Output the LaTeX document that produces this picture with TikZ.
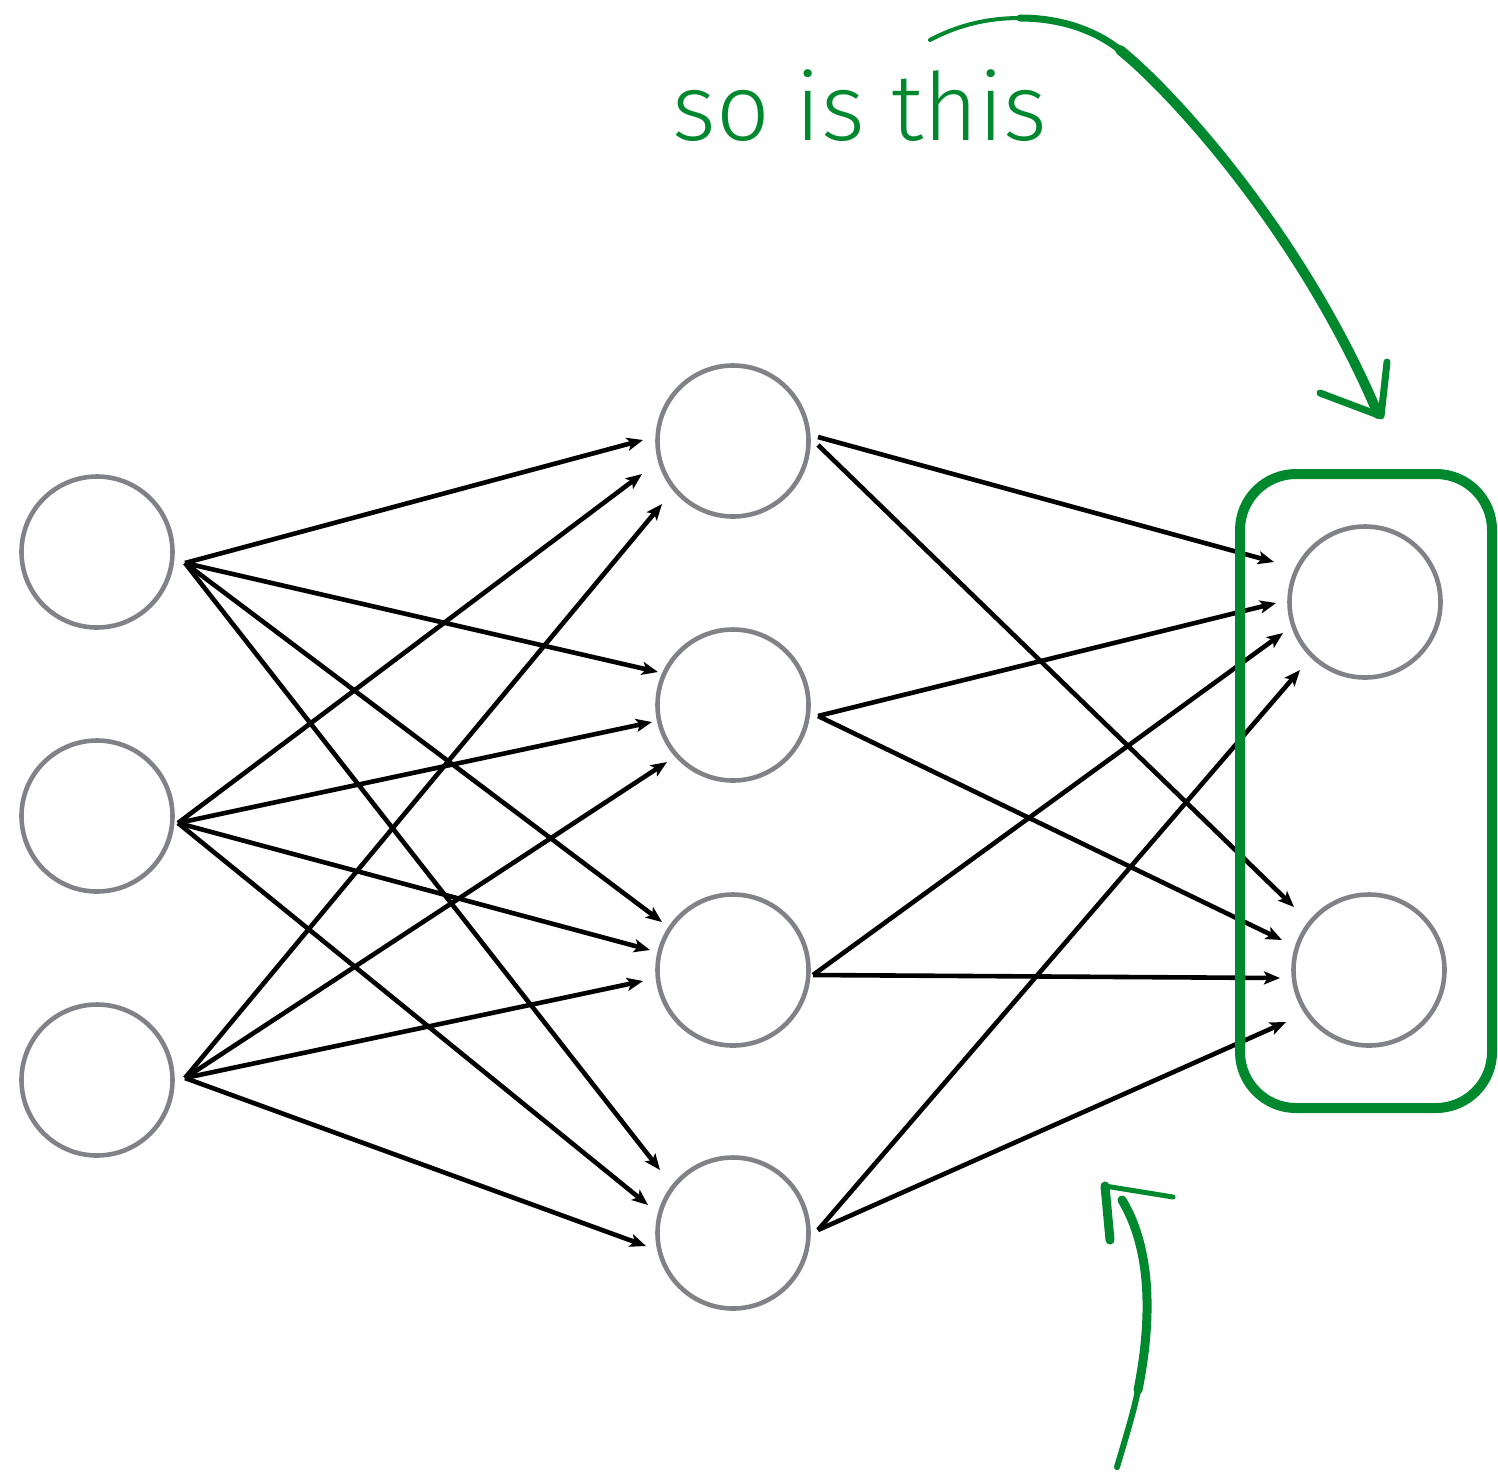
\documentclass[tikz,border=0pt]{standalone}
\usepackage{fontspec}
\newfontfamily\lightfont{Fira Sans Light}
\usetikzlibrary{arrows.meta,calc}
\definecolor{sketchgreen}{RGB}{0,136,47}
\definecolor{nodegray}{RGB}{128,130,135}
\begin{document}
\begin{tikzpicture}[x=0.5pt,y=-0.5pt,
  neuron/.style={circle,draw=nodegray,line width=2.3pt,minimum size=75.5pt,inner sep=0pt},
  link/.style={line width=2.3pt,-{Stealth[length=8pt,width=6.5pt,inset=1.8pt]}},
  sketch/.style={draw=sketchgreen,line cap=round,line join=round}]
\useasboundingbox (0,0) rectangle (1498,1474);

% neurons
\node[neuron] (i1) at (97,552) {};
\node[neuron] (i2) at (97,816) {};
\node[neuron] (i3) at (97,1080) {};
\node[neuron] (h1) at (733,441) {};
\node[neuron] (h2) at (733,705) {};
\node[neuron] (h3) at (733,970) {};
\node[neuron] (h4) at (733,1233) {};
\node[neuron] (o1) at (1365,602) {};
\node[neuron] (o2) at (1369,970) {};

% source points
\coordinate (i1o) at ($(i1)+(88,11)$);
\coordinate (i2o) at ($(i2)+(81,7)$);
\coordinate (i3o) at ($(i3)+(88,-2)$);
\coordinate (h1a) at ($(h1)+(85,-4)$);
\coordinate (h1b) at ($(h1)+(85,4)$);
\coordinate (h2o) at ($(h2)+(85,11)$);
\coordinate (h3o) at ($(h3)+(80,5)$);
\coordinate (h4o) at ($(h4)+(85,-3)$);

% input -> hidden
\draw[link] (i1o) -- ($(h1)+(-90,-1)$);
\draw[link] (i1o) -- ($(h2)+(-75,-33)$);
\draw[link] (i1o) -- ($(h3)+(-71,-48)$);
\draw[link] (i1o) -- ($(h4)+(-73,-63)$);
\draw[link] (i2o) -- ($(h1)+(-91,33)$);
\draw[link] (i2o) -- ($(h2)+(-81,17)$);
\draw[link] (i2o) -- ($(h3)+(-83,-20)$);
\draw[link] (i2o) -- ($(h4)+(-85,-28)$);
\draw[link] (i3o) -- ($(h1)+(-71,63)$);
\draw[link] (i3o) -- ($(h2)+(-66,57)$);
\draw[link] (i3o) -- ($(h3)+(-90,11)$);
\draw[link] (i3o) -- ($(h4)+(-87,13)$);

% hidden -> output
\draw[link] (h1a) -- ($(o1)+(-91,-40)$);
\draw[link] (h1b) -- ($(o2)+(-75,-63)$);
\draw[link] (h2o) -- ($(o1)+(-89,1)$);
\draw[link] (h2o) -- ($(o2)+(-87,-30)$);
\draw[link] (h3o) -- ($(o1)+(-82,31)$);
\draw[link] (h3o) -- ($(o2)+(-89,8)$);
\draw[link] (h4o) -- ($(o1)+(-65,68)$);
\draw[link] (h4o) -- ($(o2)+(-83,52)$);

% green box around output layer
\draw[sketch,line width=5pt,rounded corners=28pt] (1240,474) rectangle (1492,1108);

% label
\node[anchor=base west,text=sketchgreen,inner sep=0pt,
  font=\lightfont\fontsize{47}{50}\selectfont] (label) at (672,140) {so is this};

% top sketch arrow
\draw[sketch,line width=2pt] (930,40) .. controls (960,24) and (990,18) .. (1020,18);
\draw[sketch,line width=3.5pt] (1020,18) .. controls (1060,18) and (1095,30) .. (1120,50);
\draw[sketch,line width=5pt] (1120,50) .. controls (1170,90) and (1300,230) .. (1378,414);
\draw[sketch,line width=3.5pt] (1387,362) -- (1381,416) -- (1320,393);

% bottom sketch arrow
\draw[sketch,line width=3pt] (1117,1467) .. controls (1128,1430) and (1134,1410) .. (1138,1390);
\draw[sketch,line width=4.5pt] (1138,1390) .. controls (1152,1320) and (1152,1250) .. (1122,1200);
\draw[sketch,line width=4.5pt] (1110,1240) -- (1105,1186);
\draw[sketch,line width=2.5pt] (1105,1186) -- (1173,1197);
\end{tikzpicture}
\end{document}
